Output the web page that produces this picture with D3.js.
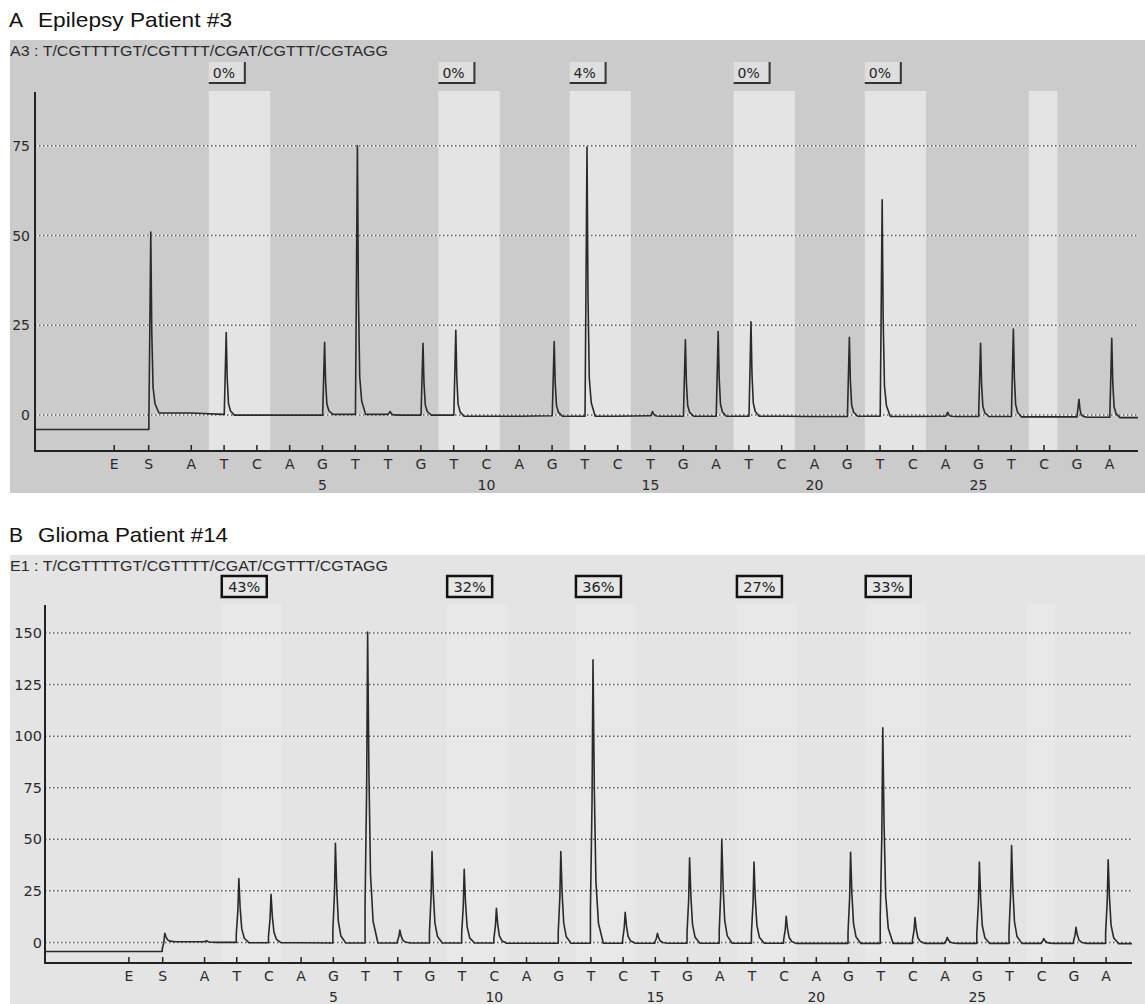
<!DOCTYPE html>
<html>
<head>
<meta charset="utf-8">
<script src="https://cdn.jsdelivr.net/npm/d3@7"></script>
<style>
  body { margin: 0; background: #fff; }
  svg { display: block; }
</style>
</head>
<body>
<div id="chart"></div>
<script>
// dispensation order of the pyrosequencing run
const dispensations = ["E", "S", "A", "T", "C", "A", "G", "T", "T", "G", "T", "C", "A", "G", "T", "C",
  "T", "G", "A", "T", "C", "A", "G", "T", "C", "A", "G", "T", "C", "G", "A"];
const dispPos = [-1.35, -0.3, 1, 2, 3, 4, 5, 6, 7, 8, 9, 10, 11, 12, 13, 14, 15,
  16, 17, 18, 19, 20, 21, 22, 23, 24, 25, 26, 27, 28, 29];
const dispNumbers = [5, 10, 15, 20, 25];
const sequence = "T/CGTTTTGT/CGTTTT/CGAT/CGTTT/CGTAGG";

// analysed CpG sites (T/C) and the bisulfite control C
const bandFrom = [2, 9, 13, 18, 22, 27];
const bandTo = [3, 10, 14, 19, 23, 27];

// panel A - epilepsy patient #3 (null = no peak)
const peaksA = [null, 51, null, 23, null, null, 20.3, 75, 1, 20, 23.6, null, null, 20.5, 74.7, null,
  1, 21, 23.3, 26, null, null, 21.7, 60, null, 0.8, 20, 24, null, 4.4, 21.4];
const baseA = [-4, -4, 0.6, 0.2, 0, 0, 0, 0.2, 0.2, 0, 0, -0.3, -0.3, -0.2, -0.3, -0.3,
  -0.2, -0.3, -0.3, -0.3, -0.3, -0.4, -0.4, -0.3, -0.4, -0.3, -0.4, -0.4, -0.5, -0.5, -0.6];
const pctA = ["0%", "0%", "4%", "0%", "0%"];
const yTicksA = [0, 25, 50, 75];

// panel B - glioma patient #14
const peaksB = [null, 4.4, 0.8, 31, 23.3, null, 48, 150.5, 6, 44, 35.4, 16.5, null, 44, 137, 14.6,
  4.4, 41, 50, 39, 12.6, null, 43.7, 104, 12, 2.4, 39, 47, 1.8, 7.3, 40];
const baseB = [-4.4, -4.4, 0.3, 0, -0.2, -0.2, -0.3, -0.3, -0.3, -0.3, -0.3, -0.3, -0.4, -0.4, -0.4, -0.4,
  -0.4, -0.4, -0.4, -0.4, -0.4, -0.5, -0.5, -0.5, -0.5, -0.5, -0.5, -0.5, -0.5, -0.5, -0.5];
const pctB = ["43%", "32%", "36%", "27%", "33%"];
const yTicksB = [0, 25, 50, 75, 100, 125, 150];

const panels = [
  {
    title: "Epilepsy Patient #3", letter: "A", well: "A3", top: 40, height: 453,
    bg: "#cbcbcb", band: "#e4e4e4", boxed: false,
    peaks: peaksA, base: baseA, end: -0.7, pct: pctA, yTicks: yTicksA,
    xDomain: [-3.75, 29.88], xRange: [35, 1138], yDomain: [-10, 90], yRange: [451, 92],
    shape: [[0.02, 0], [0.08, 1], [0.11, 0.45], [0.15, 0.14], [0.21, 0.05], [0.33, 0]],
    boxW: 36, boxY: 62, boxH: 21, tickPad: 5
  },
  {
    title: "Glioma Patient #14", letter: "B", well: "E1", top: 555, height: 449,
    bg: "#e4e4e4", band: "#e8e8e8", boxed: true,
    peaks: peaksB, base: baseB, end: -0.6, pct: pctB, yTicks: yTicksB,
    xDomain: [-3.94, 29.82], xRange: [45, 1132], yDomain: [-10, 163.6], yRange: [963, 605],
    shape: [[0.0, 0.12], [0.05, 0.5], [0.08, 1], [0.12, 0.55], [0.17, 0.22], [0.25, 0.07], [0.4, 0]],
    boxW: 45, boxY: 576, boxH: 21, tickPad: 3
  }
];

const svg = d3.select("#chart").append("svg").attr("width", 1145).attr("height", 1004);

panels.forEach(drawPanel);

function tracePoints(p) {
  const pts = [[p.xDomain[0], p.base[0]]];
  dispPos.forEach((pos, i) => {
    pts.push([pos, p.base[i]]);
    if (p.peaks[i] != null) {
      const after = i + 1 < p.base.length ? p.base[i + 1] : p.end;
      p.shape.forEach(([dx, f]) => {
        const from = dx < 0.08 ? p.base[i] : after;
        pts.push([pos + dx, from + f * (p.peaks[i] - from)]);
      });
    }
  });
  pts.push([p.xDomain[1], p.end]);
  return pts;
}

function drawPanel(p) {
  const x = d3.scaleLinear().domain(p.xDomain).range(p.xRange);
  const y = d3.scaleLinear().domain(p.yDomain).range(p.yRange);
  const g = svg.append("g");

  // titles
  const titleY = p.top - 13;
  g.append("text").attr("x", 9).attr("y", titleY)
    .style("font-family", "Liberation Sans, Arial, sans-serif").style("font-size", "21px")
    .attr("fill", "#111").text(p.letter);
  g.append("text").attr("x", 38).attr("y", titleY)
    .style("font-family", "Liberation Sans, Arial, sans-serif").style("font-size", "21px")
    .attr("textLength", p.letter === "A" ? 194 : 190).attr("lengthAdjust", "spacingAndGlyphs")
    .attr("fill", "#111").text(p.title);

  g.append("rect").attr("x", 10).attr("y", p.top).attr("width", 1135).attr("height", p.height)
    .attr("fill", p.bg);

  g.append("text").attr("x", 10).attr("y", p.top + 16)
    .style("font-family", "Liberation Sans, Arial, sans-serif").style("font-size", "15px")
    .attr("textLength", 378).attr("lengthAdjust", "spacingAndGlyphs")
    .attr("fill", "#2a2a2a").text(p.well + " : " + sequence);

  // highlighted dispensations
  g.selectAll(".band").data(bandFrom).enter().append("rect")
    .attr("x", (d) => x(d - 0.45))
    .attr("y", p.yRange[1] - 1)
    .attr("width", (d, i) => x(bandTo[i] + 0.42) - x(d - 0.45))
    .attr("height", p.yRange[0] - p.yRange[1] + 1)
    .attr("fill", p.band);

  // gridlines
  const grid = g.append("g");
  grid.selectAll(".gw").data(p.yTicks).enter().append("line")
    .attr("x1", p.xRange[0]).attr("x2", p.xRange[1])
    .attr("y1", (d) => y(d)).attr("y2", (d) => y(d))
    .attr("stroke", "#f4f4f4").attr("stroke-width", 1.5);
  grid.selectAll(".gd").data(p.yTicks).enter().append("line")
    .attr("x1", p.xRange[0]).attr("x2", p.xRange[1])
    .attr("y1", (d) => y(d)).attr("y2", (d) => y(d))
    .attr("stroke", "#555").attr("stroke-width", 1.5).attr("stroke-dasharray", "1.5,2.5");

  // y axis
  const yAxis = d3.axisLeft(y).tickValues(p.yTicks).tickSize(0).tickPadding(p.tickPad);
  const ya = g.append("g").attr("transform", "translate(" + p.xRange[0] + ",0)").call(yAxis);
  ya.select(".domain").remove();
  ya.selectAll("text").style("font-family", "DejaVu Sans, Verdana, sans-serif")
    .style("font-size", p.letter === "A" ? "14px" : "14.5px").attr("fill", "#2a2a2a");

  // x axis: dispensation letters
  const xAxis = d3.axisBottom(x).tickValues(dispPos)
    .tickFormat((d, i) => dispensations[i]).tickSizeInner(-6).tickSizeOuter(0).tickPadding(8);
  const xa = g.append("g").attr("transform", "translate(0," + p.yRange[0] + ")").call(xAxis);
  xa.select(".domain").remove();
  xa.selectAll("line").attr("stroke", "#222").attr("stroke-width", 1.5);
  xa.selectAll("text").style("font-family", "DejaVu Sans, Verdana, sans-serif")
    .style("font-size", "14px").attr("fill", "#2a2a2a");

  // x axis: dispensation numbers
  const nAxis = d3.axisBottom(x).tickValues(dispNumbers).tickSize(0).tickPadding(0);
  const na = g.append("g").attr("transform", "translate(0," + (p.yRange[0] + 29) + ")").call(nAxis);
  na.select(".domain").remove();
  na.selectAll("text").style("font-family", "DejaVu Sans, Verdana, sans-serif")
    .style("font-size", "14px").attr("fill", "#2a2a2a");

  // trace
  const line = d3.line().x((d) => x(d[0])).y((d) => y(d[1]));
  g.append("path").datum(tracePoints(p)).attr("d", line)
    .attr("fill", "none").attr("stroke", "#2a2a2a").attr("stroke-width", 1.6)
    .attr("stroke-linejoin", "round");

  // axis lines
  g.append("line").attr("x1", p.xRange[0]).attr("x2", p.xRange[0])
    .attr("y1", p.yRange[1]).attr("y2", p.yRange[0] + 1)
    .attr("stroke", "#222").attr("stroke-width", 2);
  g.append("line").attr("x1", p.xRange[0]).attr("x2", p.xRange[1])
    .attr("y1", p.yRange[0]).attr("y2", p.yRange[0])
    .attr("stroke", "#222").attr("stroke-width", 2);

  // methylation percentages
  const boxes = g.selectAll(".pct").data(p.pct).enter().append("g")
    .attr("transform", (d, i) => "translate(" + x(bandFrom[i] - 0.45) + "," + p.boxY + ")");
  boxes.append("rect").attr("width", p.boxW).attr("height", p.boxH)
    .attr("fill", p.boxed ? "#e6e6e6" : "#dedede")
    .attr("stroke", p.boxed ? "#111" : "none").attr("stroke-width", 2.5);
  if (!p.boxed) {
    boxes.append("path")
      .attr("d", "M" + p.boxW + ",0V" + p.boxH + "H0")
      .attr("fill", "none").attr("stroke", "#333").attr("stroke-width", 2);
  }
  boxes.append("text").attr("x", p.boxed ? p.boxW / 2 : 4).attr("y", p.boxH / 2 + 5)
    .attr("text-anchor", p.boxed ? "middle" : "start")
    .style("font-family", "DejaVu Sans, Verdana, sans-serif")
    .style("font-size", p.boxed ? "14.5px" : "14px").attr("fill", "#222").text((d) => d);
}
</script>
</body>
</html>
